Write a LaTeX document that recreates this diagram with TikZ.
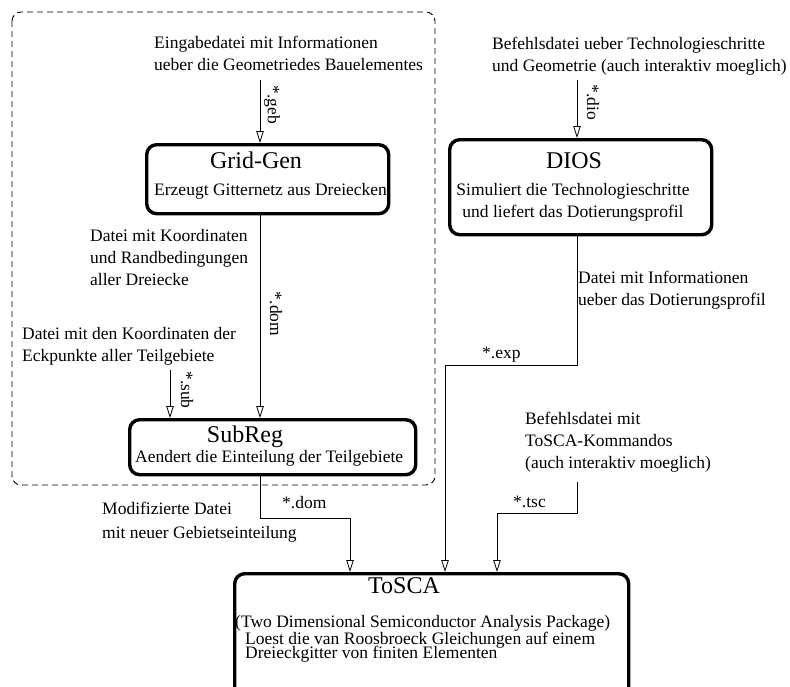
\documentclass[tikz,border=0pt]{standalone}
\usepackage{fontspec}
\setmainfont{Liberation Serif}
\usetikzlibrary{arrows.meta}
\newcommand\mytightlines{\fontsize{17.5}{14}\selectfont\lineskiplimit=-20pt\relax\lineskip=0pt\relax}
\begin{document}
\begin{tikzpicture}[x=1pt,y=-1pt,
  box/.style={draw, line width=3.4pt, rounded corners=10pt, inner sep=0pt, anchor=north west},
  txt/.style={font=\fontsize{17.5}{22}\selectfont, align=left, inner sep=0pt, anchor=north west},
  lbl/.style={font=\fontsize{17.5}{22}\selectfont, inner sep=0pt, anchor=base west},
  rlbl/.style={font=\fontsize{17.5}{22}\selectfont, inner sep=0pt, rotate=-90},
  ttl/.style={font=\fontsize{24}{28}\selectfont, inner sep=0pt, anchor=base},
  conn/.style={line width=0.8pt, -{Triangle[open, length=12pt, width=7.5pt]}},
  grp/.style={draw, dash pattern=on 6pt off 4pt, line width=0.9pt, rounded corners=9pt}]
\useasboundingbox (0,0) rectangle (790,686);

% dashed group
\draw[grp] (12,12) rectangle (435,485);

% boxes
\node[box, minimum width=242pt, minimum height=69pt] (gg) at (145,143) {};
\node[box, minimum width=262pt, minimum height=95pt] (dios) at (448,138) {};
\node[box, minimum width=286pt, minimum height=55pt] (sr) at (128,418) {};
\node[box, minimum width=394pt, minimum height=125pt] (tosca) at (233,572) {};

% box contents
\node[ttl] (ggt) at (256,168) {Grid-Gen};
\node[lbl] (ggs) at (154,195) {Erzeugt Gitternetz aus Dreiecken};
\node[ttl] (diost) at (574,168) {DIOS};
\node[txt, align=center, anchor=north] (dioss) at (573,183) {Simuliert die Technologieschritte\\und liefert das Dotierungsprofil};
\node[ttl] (srt) at (245,442) {SubReg};
\node[lbl] (srs) at (135,462) {Aendert die Einteilung der Teilgebiete};
\node[ttl] (toscat) at (404,593) {ToSCA};
\node[lbl] (toscas) at (235,627) {(Two Dimensional Semiconductor Analysis Package)};
\node[txt, font=\mytightlines] (toscad) at (245,632) {Loest die van Roosbroeck Gleichungen auf einem\\Dreieckgitter von finiten Elementen};

% free texts
\node[txt] (ein) at (154,36) {Eingabedatei mit Informationen\\ueber die Geometriedes Bauelementes};
\node[txt] (bef) at (492,37) {Befehlsdatei ueber Technologieschritte\\und Geometrie (auch interaktiv moeglich)};
\node[txt] (dmk) at (90,229) {Datei mit Koordinaten\\und Randbedingungen\\aller Dreiecke};
\node[txt] (dek) at (22,327) {Datei mit den Koordinaten der\\Eckpunkte aller Teilgebiete};
\node[txt] (dinf) at (578,271) {Datei mit Informationen\\ueber das Dotierungsprofil};
\node[txt] (btsc) at (525,412) {Befehlsdatei mit\\ToSCA-Kommandos\\(auch interaktiv moeglich)};
\node[txt, font=\fontsize{17.5}{24}\selectfont] (mod) at (102,502) {Modifizierte Datei\\mit neuer Gebietseinteilung};

% connector labels
\node[rlbl] (geb) at (272,105) {*.geb};
\node[rlbl] (dio) at (593,102) {*.dio};
\node[rlbl] (dom1) at (276,314) {*.dom};
\node[rlbl] (sub) at (187,390) {*.sub};
\node[lbl] (dom2) at (282,508) {*.dom};
\node[lbl] (exp) at (482,358) {*.exp};
\node[lbl] (tsc) at (513,507) {*.tsc};

% connector coordinates
\coordinate (gin) at (260,80);
\coordinate (din) at (577,80);
\coordinate (sin) at (170,370);
\coordinate (domc) at (350,518);
\coordinate (expc) at (445,365);
\coordinate (tin) at (577,482);
\coordinate (tscc) at (497,513);

% connectors
\draw[conn] (gin) -- (gin |- gg.north);
\draw[conn] (din) -- (din |- dios.north);
\draw[conn] (gin |- gg.south) -- (gin |- sr.north);
\draw[conn] (sin) -- (sin |- sr.north);
\draw[conn] (gin |- sr.south) -- (gin |- domc) -- (domc) -- (domc |- tosca.north);
\draw[conn] (din |- dios.south) -- (din |- expc) -- (expc) -- (expc |- tosca.north);
\draw[conn] (tin) |- (tscc) -- (tscc |- tosca.north);
\end{tikzpicture}
\end{document}
